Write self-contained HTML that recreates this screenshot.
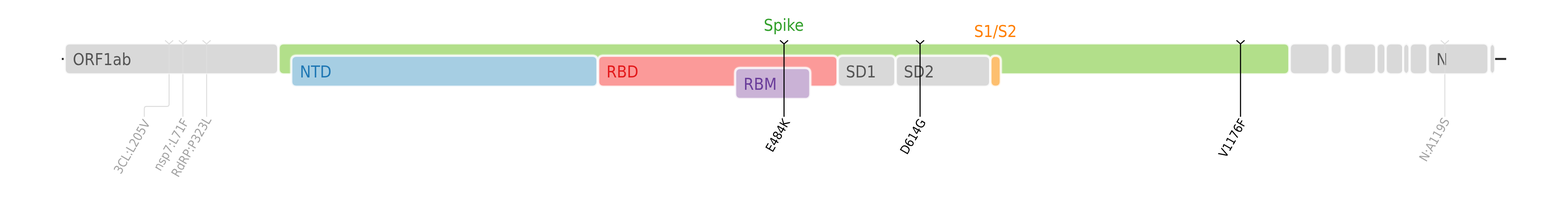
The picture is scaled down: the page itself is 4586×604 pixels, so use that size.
<!DOCTYPE html>
<html lang="en">
<head>
<meta charset="utf-8">
<title>SARS-CoV-2 genome map</title>
<style>
html,body{margin:0;padding:0;background:#fff;width:4586px;height:604px;overflow:hidden}
svg{display:block;font-family:"DejaVu Sans Condensed", "DejaVu Sans", "Liberation Sans", sans-serif;font-stretch:condensed;will-change:transform}
</style>
</head>
<body>
<svg width="4586" height="604" viewBox="0 0 4586 604">
<rect x="0" y="0" width="4586" height="604" fill="#ffffff"/>
<g class="genes">
<g stroke="#ffffff" stroke-width="6.2" stroke-opacity="0.8">
<path d="M204.50 126.70L798.70 126.70Q813.70 126.70 813.70 141.70L813.70 201.80Q813.70 216.80 798.70 216.80L204.50 216.80Q189.50 216.80 189.50 201.80L189.50 141.70Q189.50 126.70 204.50 126.70Z" fill="#d9d9d9"/>
<path d="M830.30 126.70L3755.90 126.70Q3770.90 126.70 3770.90 141.70L3770.90 201.80Q3770.90 216.80 3755.90 216.80L830.30 216.80Q815.30 216.80 815.30 201.80L815.30 141.70Q815.30 126.70 830.30 126.70Z" fill="#b2df8a"/>
<path d="M3787.50 126.70L3873.50 126.70Q3888.50 126.70 3888.50 141.70L3888.50 201.80Q3888.50 216.80 3873.50 216.80L3787.50 216.80Q3772.50 216.80 3772.50 201.80L3772.50 141.70Q3772.50 126.70 3787.50 126.70Z" fill="#d9d9d9"/>
<path d="M3907.00 126.70L3908.84 126.70Q3923.84 126.70 3923.84 141.70L3923.84 201.80Q3923.84 216.80 3908.84 216.80L3907.00 216.80Q3892.00 216.80 3892.00 201.80L3892.00 141.70Q3892.00 126.70 3907.00 126.70Z" fill="#d9d9d9"/>
<path d="M3945.99 126.70L4009.69 126.70Q4024.69 126.70 4024.69 141.70L4024.69 201.80Q4024.69 216.80 4009.69 216.80L3945.99 216.80Q3930.99 216.80 3930.99 201.80L3930.99 141.70Q3930.99 126.70 3945.99 126.70Z" fill="#d9d9d9"/>
<path d="M4041.23 126.70L4037.18 126.70Q4052.18 126.70 4052.18 141.70L4052.18 201.80Q4052.18 216.80 4037.18 216.80L4041.23 216.80Q4026.23 216.80 4026.23 201.80L4026.23 141.70Q4026.23 126.70 4041.23 126.70Z" fill="#d9d9d9"/>
<path d="M4068.16 126.70L4089.36 126.70Q4104.36 126.70 4104.36 141.70L4104.36 201.80Q4104.36 216.80 4089.36 216.80L4068.16 216.80Q4053.16 216.80 4053.16 201.80L4053.16 141.70Q4053.16 126.70 4068.16 126.70Z" fill="#d9d9d9"/>
<path d="M4118.93 126.70L4107.31 126.70Q4122.31 126.70 4122.31 141.70L4122.31 201.80Q4122.31 216.80 4107.31 216.80L4118.93 216.80Q4103.93 216.80 4103.93 201.80L4103.93 141.70Q4103.93 126.70 4118.93 126.70Z" fill="#d9d9d9"/>
<path d="M4138.29 126.70L4159.49 126.70Q4174.49 126.70 4174.49 141.70L4174.49 201.80Q4174.49 216.80 4159.49 216.80L4138.29 216.80Q4123.29 216.80 4123.29 201.80L4123.29 141.70Q4123.29 126.70 4138.29 126.70Z" fill="#d9d9d9"/>
<path d="M4191.59 126.70L4338.18 126.70Q4353.18 126.70 4353.18 141.70L4353.18 201.80Q4353.18 216.80 4338.18 216.80L4191.59 216.80Q4176.59 216.80 4176.59 201.80L4176.59 141.70Q4176.59 126.70 4191.59 126.70Z" fill="#d9d9d9"/>
<path d="M4371.68 126.70L4357.95 126.70Q4372.95 126.70 4372.95 141.70L4372.95 201.80Q4372.95 216.80 4357.95 216.80L4371.68 216.80Q4356.68 216.80 4356.68 201.80L4356.68 141.70Q4356.68 126.70 4371.68 126.70Z" fill="#d9d9d9"/>
</g></g>
<g class="domains">
<path d="M867.10 162.80L1732.30 162.80Q1747.30 162.80 1747.30 177.80L1747.30 237.80Q1747.30 252.80 1732.30 252.80L867.10 252.80Q852.10 252.80 852.10 237.80L852.10 177.80Q852.10 162.80 867.10 162.80ZM1764.70 162.80L2434.40 162.80Q2449.40 162.80 2449.40 177.80L2449.40 237.80Q2449.40 252.80 2434.40 252.80L1764.70 252.80Q1749.70 252.80 1749.70 237.80L1749.70 177.80Q1749.70 162.80 1764.70 162.80ZM2465.50 162.80L2603.50 162.80Q2618.50 162.80 2618.50 177.80L2618.50 237.80Q2618.50 252.80 2603.50 252.80L2465.50 252.80Q2450.50 252.80 2450.50 237.80L2450.50 177.80Q2450.50 162.80 2465.50 162.80ZM2635.10 162.80L2880.80 162.80Q2895.80 162.80 2895.80 177.80L2895.80 237.80Q2895.80 252.80 2880.80 252.80L2635.10 252.80Q2620.10 252.80 2620.10 237.80L2620.10 177.80Q2620.10 162.80 2635.10 162.80ZM2912.00 162.80L2911.80 162.80Q2926.80 162.80 2926.80 177.80L2926.80 237.80Q2926.80 252.80 2911.80 252.80L2912.00 252.80Q2897.00 252.80 2897.00 237.80L2897.00 177.80Q2897.00 162.80 2912.00 162.80Z" fill="none" stroke="#ffffff" stroke-width="12.4" stroke-opacity="0.12" stroke-linejoin="round"/>
<path d="M867.10 162.80L1732.30 162.80Q1747.30 162.80 1747.30 177.80L1747.30 237.80Q1747.30 252.80 1732.30 252.80L867.10 252.80Q852.10 252.80 852.10 237.80L852.10 177.80Q852.10 162.80 867.10 162.80ZM1764.70 162.80L2434.40 162.80Q2449.40 162.80 2449.40 177.80L2449.40 237.80Q2449.40 252.80 2434.40 252.80L1764.70 252.80Q1749.70 252.80 1749.70 237.80L1749.70 177.80Q1749.70 162.80 1764.70 162.80ZM2465.50 162.80L2603.50 162.80Q2618.50 162.80 2618.50 177.80L2618.50 237.80Q2618.50 252.80 2603.50 252.80L2465.50 252.80Q2450.50 252.80 2450.50 237.80L2450.50 177.80Q2450.50 162.80 2465.50 162.80ZM2635.10 162.80L2880.80 162.80Q2895.80 162.80 2895.80 177.80L2895.80 237.80Q2895.80 252.80 2880.80 252.80L2635.10 252.80Q2620.10 252.80 2620.10 237.80L2620.10 177.80Q2620.10 162.80 2635.10 162.80ZM2912.00 162.80L2911.80 162.80Q2926.80 162.80 2926.80 177.80L2926.80 237.80Q2926.80 252.80 2911.80 252.80L2912.00 252.80Q2897.00 252.80 2897.00 237.80L2897.00 177.80Q2897.00 162.80 2912.00 162.80Z" fill="none" stroke="#ffffff" stroke-width="9.4" stroke-opacity="0.2" stroke-linejoin="round"/>
<g stroke="#ffffff" stroke-width="6.2" stroke-opacity="0.8">
<path d="M867.10 162.80L1732.30 162.80Q1747.30 162.80 1747.30 177.80L1747.30 237.80Q1747.30 252.80 1732.30 252.80L867.10 252.80Q852.10 252.80 852.10 237.80L852.10 177.80Q852.10 162.80 867.10 162.80Z" fill="#a6cee3"/>
<path d="M1764.70 162.80L2434.40 162.80Q2449.40 162.80 2449.40 177.80L2449.40 237.80Q2449.40 252.80 2434.40 252.80L1764.70 252.80Q1749.70 252.80 1749.70 237.80L1749.70 177.80Q1749.70 162.80 1764.70 162.80Z" fill="#fb9a99"/>
<path d="M2465.50 162.80L2603.50 162.80Q2618.50 162.80 2618.50 177.80L2618.50 237.80Q2618.50 252.80 2603.50 252.80L2465.50 252.80Q2450.50 252.80 2450.50 237.80L2450.50 177.80Q2450.50 162.80 2465.50 162.80Z" fill="#d9d9d9"/>
<path d="M2635.10 162.80L2880.80 162.80Q2895.80 162.80 2895.80 177.80L2895.80 237.80Q2895.80 252.80 2880.80 252.80L2635.10 252.80Q2620.10 252.80 2620.10 237.80L2620.10 177.80Q2620.10 162.80 2635.10 162.80Z" fill="#d9d9d9"/>
<path d="M2912.00 162.80L2911.80 162.80Q2926.80 162.80 2926.80 177.80L2926.80 237.80Q2926.80 252.80 2911.80 252.80L2912.00 252.80Q2897.00 252.80 2897.00 237.80L2897.00 177.80Q2897.00 162.80 2912.00 162.80Z" fill="#fdbf6f"/>
</g></g>
<g class="motif">
<path d="M2165.30 198.70L2354.60 198.70Q2369.60 198.70 2369.60 213.70L2369.60 273.70Q2369.60 288.70 2354.60 288.70L2165.30 288.70Q2150.30 288.70 2150.30 273.70L2150.30 213.70Q2150.30 198.70 2165.30 198.70Z" fill="none" stroke="#ffffff" stroke-width="12.4" stroke-opacity="0.12" stroke-linejoin="round"/>
<path d="M2165.30 198.70L2354.60 198.70Q2369.60 198.70 2369.60 213.70L2369.60 273.70Q2369.60 288.70 2354.60 288.70L2165.30 288.70Q2150.30 288.70 2150.30 273.70L2150.30 213.70Q2150.30 198.70 2165.30 198.70Z" fill="none" stroke="#ffffff" stroke-width="9.4" stroke-opacity="0.2" stroke-linejoin="round"/>
<g stroke="#ffffff" stroke-width="6.2" stroke-opacity="0.8">
<path d="M2165.30 198.70L2354.60 198.70Q2369.60 198.70 2369.60 213.70L2369.60 273.70Q2369.60 288.70 2354.60 288.70L2165.30 288.70Q2150.30 288.70 2150.30 273.70L2150.30 213.70Q2150.30 198.70 2165.30 198.70Z" fill="#cab2d6"/>
</g></g>
<path class="genome" d="M180.8 172.0H186.3M4372.9 172.0H4405.2" fill="none" stroke="#2e2e2e" stroke-width="5.9"/>
<g class="labels">
<text x="212.90" y="190.00" font-size="48.2" fill="#555555" text-anchor="start">ORF1ab</text>
<text x="877.10" y="226.00" font-size="48.2" fill="#1f78b4" text-anchor="start">NTD</text>
<text x="1773.80" y="226.00" font-size="48.2" fill="#e31a1c" text-anchor="start">RBD</text>
<text x="2174.70" y="262.00" font-size="48.2" fill="#6a3d9a" text-anchor="start">RBM</text>
<text x="2473.90" y="226.00" font-size="48.2" fill="#555555" text-anchor="start">SD1</text>
<text x="2643.50" y="226.00" font-size="48.2" fill="#555555" text-anchor="start">SD2</text>
<text x="4200.89" y="190.00" font-size="48.2" fill="#555555" text-anchor="start">N</text>
<text x="2292.30" y="90.10" font-size="48.2" fill="#33a02c" text-anchor="middle">Spike</text>
<text x="2911.50" y="107.90" font-size="48.2" fill="#ff7f00" text-anchor="middle">S1/S2</text>
</g>
<g class="mutations">
<g class="mutation"><path d="M494.6 128.1V213.7" fill="none" stroke="#dedede" stroke-width="2.9"/><path d="M494.6 213.7V216.9" fill="none" stroke="#efefef" stroke-width="2.9"/><path d="M494.6 216.9V304.0Q494.6 310.5 488.1 310.5H428.5Q422 310.5 422 317.0V340.8M482.8 117.8L494.6 128.1L506.4 117.8" fill="none" stroke="#dedede" stroke-width="2.9"/><text transform="translate(417.60,345.70) rotate(-60)" font-size="36" fill="#a3a3a3" text-anchor="end" y="26.24">3CL:L205V</text></g>
<g class="mutation"><path d="M535.0 128.1V213.7" fill="none" stroke="#dedede" stroke-width="2.9"/><path d="M535.0 213.7V216.9" fill="none" stroke="#efefef" stroke-width="2.9"/><path d="M535.0 216.9V340.8M523.2 117.8L535.0 128.1L546.8 117.8" fill="none" stroke="#dedede" stroke-width="2.9"/><text transform="translate(530.30,343.00) rotate(-60)" font-size="36" fill="#a3a3a3" text-anchor="end" y="26.24">nsp7:L71F</text></g>
<g class="mutation"><path d="M604.3 128.1V213.7" fill="none" stroke="#dedede" stroke-width="2.9"/><path d="M604.3 213.7V216.9" fill="none" stroke="#efefef" stroke-width="2.9"/><path d="M604.3 216.9V340.8M592.5 117.8L604.3 128.1L616.1 117.8" fill="none" stroke="#dedede" stroke-width="2.9"/><text transform="translate(596.40,336.80) rotate(-60)" font-size="36" fill="#a3a3a3" text-anchor="end" y="26.24">RdRP:P323L</text></g>
<g class="mutation"><path d="M4225.8 128.1V213.7" fill="none" stroke="#dedede" stroke-width="2.9"/><path d="M4225.8 213.7V216.9" fill="none" stroke="#efefef" stroke-width="2.9"/><path d="M4225.8 216.9V340.8M4214.0 117.8L4225.8 128.1L4237.6 117.8" fill="none" stroke="#dedede" stroke-width="2.9"/><text transform="translate(4218.40,340.00) rotate(-60)" font-size="36" fill="#a3a3a3" text-anchor="end" y="26.24">N:A119S</text></g>
<g class="mutation"><path d="M2293.1 128.1V340.8M2281.3 117.8L2293.1 128.1L2304.9 117.8" fill="none" stroke="#000000" stroke-width="3.2"/><text transform="translate(2288.40,343.30) rotate(-60)" font-size="36" fill="#000000" text-anchor="end" y="26.24">E484K</text></g>
<g class="mutation"><path d="M2691 128.1V340.8M2679.2 117.8L2691 128.1L2702.8 117.8" fill="none" stroke="#000000" stroke-width="3.2"/><text transform="translate(2686.30,343.00) rotate(-60)" font-size="36" fill="#000000" text-anchor="end" y="26.24">D614G</text></g>
<g class="mutation"><path d="M3628.2 128.1V340.8M3616.4 117.8L3628.2 128.1L3640.0 117.8" fill="none" stroke="#000000" stroke-width="3.2"/><text transform="translate(3623.50,343.00) rotate(-60)" font-size="36" fill="#000000" text-anchor="end" y="26.24">V1176F</text></g>
</g>
</svg>
</body>
</html>
